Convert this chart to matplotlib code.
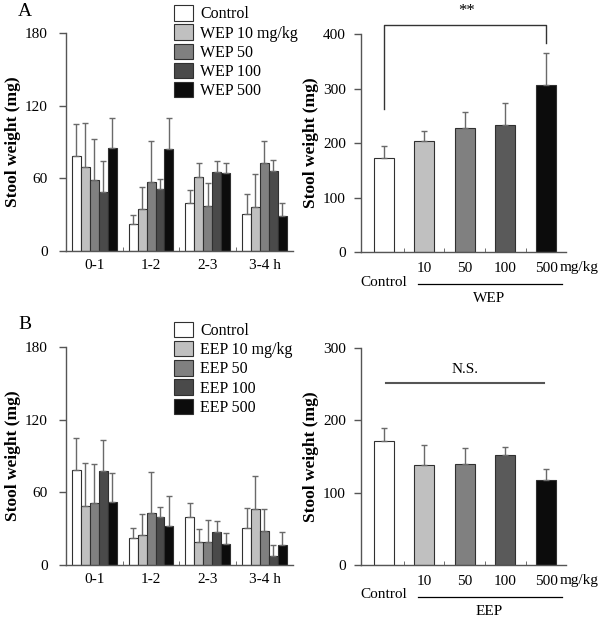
import numpy as np
import matplotlib
matplotlib.use("Agg")
import matplotlib.pyplot as plt
from matplotlib.patches import Patch
from matplotlib.ticker import FixedLocator

plt.rcParams['font.family'] = ['Liberation Serif', 'DejaVu Serif']
plt.rcParams['font.size'] = 11

# ---- data ----
periods = ['0-1', '1-2', '2-3', '3-4 h']
doses = ['10', '50', '100', '500']

wep_names = ['Control', 'WEP 10 mg/kg', 'WEP 50', 'WEP 100', 'WEP 500']
wep_mean = [[78.6, 22.3, 39.7, 30.3],
            [69.7, 34.5, 61.5, 36.7],
            [58.7, 57.0, 36.9, 73.0],
            [48.8, 51.3, 65.6, 65.9],
            [85.4, 84.3, 64.5, 29.2]]
wep_err = [[26.4, 7.5, 11.0, 16.6],
           [35.9, 18.1, 11.3, 26.7],
           [33.6, 33.7, 19.1, 18.2],
           [25.3, 8.5, 8.8, 9.3],
           [24.3, 25.4, 8.5, 10.2]]
wep_total = [171.9, 203.7, 227.5, 233.0, 306.4]
wep_total_err = [23.1, 18.3, 29.4, 40.4, 58.6]

eep_names = ['Control', 'EEP 10 mg/kg', 'EEP 50', 'EEP 100', 'EEP 500']
eep_mean = [[78.3, 22.5, 39.8, 30.2],
            [48.4, 24.5, 18.7, 46.4],
            [51.1, 42.6, 18.7, 27.8],
            [78.0, 39.6, 26.9, 7.1],
            [51.7, 31.9, 17.6, 16.2]]
eep_err = [[26.9, 7.7, 11.0, 16.8],
           [36.0, 17.5, 11.3, 27.0],
           [32.7, 33.8, 18.4, 18.4],
           [25.0, 8.5, 9.1, 9.7],
           [23.9, 25.3, 8.5, 10.7]]
eep_total = [171.6, 138.5, 140.4, 152.3, 117.8]
eep_total_err = [18.4, 28.1, 21.1, 11.5, 15.7]

colors = ['#ffffff', '#c0c0c0', '#808080', '#4a4a4a', '#0c0c0c']
colors_r = ['#ffffff', '#c0c0c0', '#808080', '#5a5a5a', '#0c0c0c']
edge = '#303030'
errc = '#6a6a6a'
spine_c = '#555555'

fig = plt.figure(figsize=(6.0, 6.21), dpi=100)


def style_axes(ax, pad):
    for s in ['top', 'right']:
        ax.spines[s].set_visible(False)
    for s in ['left', 'bottom']:
        ax.spines[s].set_color(spine_c)
        ax.spines[s].set_linewidth(1.0)
    ax.tick_params(axis='y', direction='out', length=5, color=spine_c, width=1, pad=pad)
    ax.set_ylabel('Stool weight (mg)', fontsize=12.5, fontweight='bold', labelpad=3)


def time_panel(rect, means, errs, names, letter, letter_y, leg_top):
    ax = fig.add_axes(rect)
    x = np.arange(len(periods))
    w = 0.158
    handles = []
    for i in range(len(names)):
        pos = x - 2 * w + i * w
        ax.bar(pos, means[i], w, color=colors[i], edgecolor=edge, linewidth=0.8,
               yerr=[np.zeros(len(periods)), errs[i]], ecolor=errc,
               error_kw=dict(elinewidth=1.0, capsize=2.2, capthick=1.0), zorder=2)
        handles.append(Patch(facecolor=colors[i], edgecolor=edge, linewidth=0.8))
    ax.set_xlim(-0.5, 3.5)
    ax.set_ylim(0, 180)
    ax.set_yticks([0, 60, 120, 180])
    ax.set_xticks(x)
    ax.set_xticklabels(periods)
    ax.xaxis.set_minor_locator(FixedLocator([0.5, 1.5, 2.5]))
    ax.tick_params(axis='x', which='major', length=0, pad=6)
    ax.tick_params(axis='x', which='minor', direction='in', length=3, color=spine_c)
    style_axes(ax, 8)
    fig.text(0.041, letter_y, letter, fontsize=14, ha='center', va='center')
    fig.legend(handles, names, loc='upper left', bbox_to_anchor=(0.277, leg_top),
               frameon=False, handlelength=1.15, handleheight=1.1, handletextpad=0.46,
               labelspacing=0.13, borderpad=0.0, fontsize=11.5)
    return ax


def dose_panel(rect, totals, errs, ymax, group):
    ax = fig.add_axes(rect)
    x = np.arange(len(totals))
    ax.bar(x, totals, 0.49, color=colors_r, edgecolor=edge, linewidth=0.8,
           yerr=[np.zeros(len(totals)), errs], ecolor=errc,
           error_kw=dict(elinewidth=1.0, capsize=2.5, capthick=1.0), zorder=2)
    ax.set_xlim(-0.55, 4.5)
    ax.set_ylim(0, ymax)
    ax.set_yticks(np.arange(0, ymax + 1, 100))
    ax.set_xticks(x[1:])
    ax.set_xticklabels(doses)
    ax.xaxis.set_minor_locator(FixedLocator([0.5, 1.5, 2.5, 3.5]))
    ax.tick_params(axis='x', which='major', length=0, pad=7)
    ax.tick_params(axis='x', which='minor', direction='in', length=3, color=spine_c)
    style_axes(ax, 6)
    tr = ax.get_xaxis_transform()
    ax.text(4.33, -0.073, 'mg/kg', transform=tr, ha='left', va='center', fontsize=11, clip_on=False)
    ax.text(0, -0.138, 'Control', transform=tr, ha='center', va='center', fontsize=11, clip_on=False)
    ax.plot([0.85, 4.4], [-0.147, -0.147], transform=tr, color='black', lw=0.9, clip_on=False)
    ax.text(2.6, -0.215, group, transform=tr, ha='center', va='center', fontsize=11, clip_on=False)
    return ax


ax_a = time_panel([0.11, 0.5958, 0.378, 0.351], wep_mean, wep_err, wep_names, 'A', 0.9807, 1.0044)
ax_b = time_panel([0.11, 0.0902, 0.378, 0.351], eep_mean, eep_err, eep_names, 'B', 0.478, 0.4944)

ax_c = dose_panel([0.602, 0.5942, 0.342, 0.351], wep_total, wep_total_err, 400, 'WEP')
ax_d = dose_panel([0.602, 0.0902, 0.342, 0.349], eep_total, eep_total_err, 300, 'EEP')

# significance marks
ax_c.plot([0, 0, 4, 4], [262, 416.5, 416.5, 383], color='#333333', lw=1.0, clip_on=False)
ax_c.text(2.05, 428, '**', ha='center', va='bottom', fontsize=12, clip_on=False)
ax_d.plot([0.05, 3.95], [251.6, 251.6], color='#555555', lw=1.5)
ax_d.text(2.0, 262, 'N.S.', ha='center', va='bottom', fontsize=11)

fig.savefig('out.png', dpi=100)
